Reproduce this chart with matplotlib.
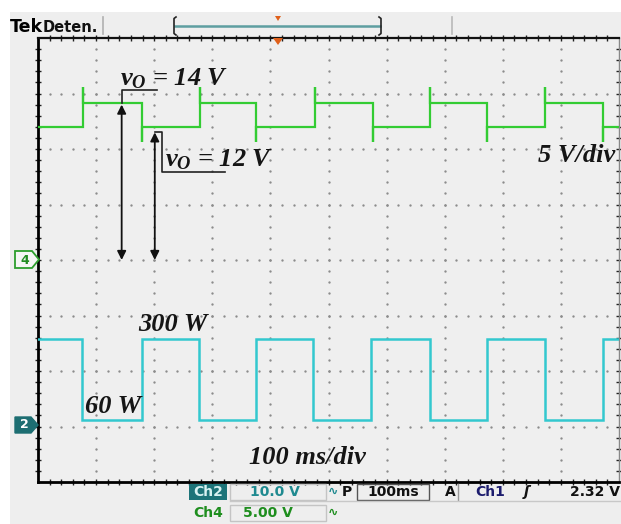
import matplotlib
matplotlib.use("Agg")
import matplotlib.pyplot as plt
from matplotlib.patches import Rectangle, Polygon
from matplotlib.lines import Line2D

# ---------------- data ----------------
# time axis: 100 ms/div, 10 divisions
time_per_div_ms = 100
n_hdiv = 10
n_vdiv = 8

# Ch4: output voltage (5 V/div), ground marker at centre
ch4_volts_per_div = 5.0
ch4_edges_ms = [77, 179, 278, 376, 476, 576, 674, 773, 873, 973]   # first edge is rising
ch4_high_v = 14.1
ch4_low_v = 12.0
ch4_overshoot_v = 15.6
ch4_undershoot_v = 10.6
ch4_start_level = "low"

# Ch2: load power (10 V/div scale), ground marker 3 div below centre
ch2_volts_per_div = 10.0
ch2_edges_ms = [76, 179, 277, 376, 474, 574, 674, 773, 873, 973]   # first edge is falling
ch2_high_v = 15.8
ch2_low_v = 1.2
ch2_start_level = "high"

# annotations
vo_labels = ["14 V", "12 V"]
power_labels = ["300 W", "60 W"]
scale_labels = ["5 V/div", "100 ms/div"]

# scope readout
readout_ch2 = ["Ch2", "10.0 V"]
readout_ch4 = ["Ch4", "5.00 V"]
readout_time = "100ms"
readout_trig = ["Ch1", "2.32 V"]

# ---------------- figure ----------------
W, H = 621, 524
fig = plt.figure(figsize=(W / 100, H / 100), dpi=100, facecolor="white")


def fx(x):
    return x / W


def fy(y):
    return 1 - y / H


BG = "#eeeeee"
fig.patches.append(Rectangle((fx(10), 0), 1, fy(12), transform=fig.transFigure,
                             facecolor=BG, edgecolor="none", zorder=-10))

ax = fig.add_axes([fx(38), fy(482), fx(619) - fx(38), fy(38) - fy(482)])
ax.set_facecolor("#efefef")
ax.set_xlim(0, n_hdiv * time_per_div_ms)
ax.set_ylim(-n_vdiv / 2, n_vdiv / 2)

# graticule dots
dot_c = "#8c8c8c"
for k in range(1, n_hdiv):
    xv = k * time_per_div_ms
    ys = [-4 + 0.2 * j for j in range(1, 40)]
    ax.plot([xv] * len(ys), ys, ls="none", marker="o", ms=1.7, mec="none", mfc=dot_c, zorder=1)
for k in range(1, n_vdiv):
    yv = -4 + k
    xs = [20 * j for j in range(1, 50)]
    ax.plot(xs, [yv] * len(xs), ls="none", marker="o", ms=1.7, mec="none", mfc=dot_c, zorder=1)

# spines and ticks
for s in ["left", "bottom"]:
    ax.spines[s].set_linewidth(2.0)
    ax.spines[s].set_color("black")
ax.spines["top"].set_linewidth(1.6)
ax.spines["top"].set_color("#111111")
ax.spines["right"].set_linewidth(1.0)
ax.spines["right"].set_color("#888888")
ax.set_xticks([20 * j for j in range(1, 50)])
ax.set_yticks([-4 + 0.2 * j for j in range(1, 40)])
ax.tick_params(axis="both", which="both", direction="inout", length=4, width=1.0,
               color="#222222", labelbottom=False, labelleft=False,
               top=True, right=True)


def build_trace(edges, start, high, low, over=None, under=None):
    ts, vs = [0], [low if start == "low" else high]
    level = start
    for t in edges:
        if level == "low":
            ts += [t, t]
            vs += [low, over if over is not None else high]
            ts.append(t)
            vs.append(high)
            level = "high"
        else:
            ts += [t, t]
            vs += [high, under if under is not None else low]
            ts.append(t)
            vs.append(low)
            level = "low"
    ts.append(n_hdiv * time_per_div_ms)
    vs.append(vs[-1])
    return ts, vs


t4, v4 = build_trace(ch4_edges_ms, ch4_start_level, ch4_high_v, ch4_low_v,
                     ch4_overshoot_v, ch4_undershoot_v)
ax.plot(t4, [v / ch4_volts_per_div + 0 for v in v4], color="#33cc33", lw=1.6, zorder=3,
        solid_joinstyle="miter")

t2, v2 = build_trace(ch2_edges_ms, ch2_start_level, ch2_high_v, ch2_low_v)
ax.plot(t2, [v / ch2_volts_per_div - 3 for v in v2], color="#33c8cf", lw=1.8, zorder=3,
        solid_joinstyle="miter")

# ---- annotation arrows & leaders ----
ax.annotate("", xy=(144, ch4_high_v / ch4_volts_per_div - 0.02), xytext=(144, 0),
            arrowprops=dict(arrowstyle="<|-|>", color="#111111", lw=1.3,
                            mutation_scale=13, shrinkA=0, shrinkB=0), zorder=5)
ax.annotate("", xy=(201, ch4_low_v / ch4_volts_per_div - 0.1), xytext=(201, 0),
            arrowprops=dict(arrowstyle="<|-|>", color="#111111", lw=1.3,
                            mutation_scale=13, shrinkA=0, shrinkB=0), zorder=5)
ax.plot([144, 144, 204], [ch4_high_v / ch4_volts_per_div, 3.06, 3.06], color="#222222", lw=1.2, zorder=5)
ax.plot([201, 213, 213, 321], [ch4_low_v / ch4_volts_per_div - 0.1, 2.3, 1.585, 1.585],
        color="#222222", lw=1.2, zorder=5)

# ---- annotation texts ----
plt.rcParams["mathtext.fontset"] = "custom"
plt.rcParams["mathtext.it"] = "Liberation Serif:italic:bold"
plt.rcParams["mathtext.rm"] = "Liberation Serif:bold"
ser = dict(family="Liberation Serif", style="italic", weight="bold", color="#151515")
FS = 19
ax.text(141, 3.15, r"$v_O$" + " = " + vo_labels[0], fontsize=FS, va="baseline", ha="left", zorder=6, **ser)
ax.text(218, 1.69, r"$v_O$" + " = " + vo_labels[1], fontsize=FS, va="baseline", ha="left", zorder=6, **ser)
ax.text(993, 1.77, scale_labels[0], fontsize=FS, va="baseline", ha="right", zorder=6, **ser)
ax.text(172, -1.28, power_labels[0], fontsize=FS, va="baseline", ha="left", zorder=6, **ser)
ax.text(81, -2.76, power_labels[1], fontsize=FS, va="baseline", ha="left", zorder=6, **ser)
ax.text(364, -3.68, scale_labels[1], fontsize=FS, va="baseline", ha="left", zorder=6, **ser)

# ---- channel markers ----
fig.patches.append(Polygon([(fx(15), fy(251)), (fx(32), fy(251)), (fx(39), fy(259.5)),
                            (fx(32), fy(268)), (fx(15), fy(268))], closed=True,
                           transform=fig.transFigure, facecolor="#f6f6f6",
                           edgecolor="#2e9e2e", lw=1.3, zorder=5))
fig.text(fx(25), fy(260), "4", color="#238c23", fontsize=9, fontweight="bold",
         ha="center", va="center", family="DejaVu Sans", zorder=7)
fig.patches.append(Polygon([(fx(15), fy(417)), (fx(31), fy(417)), (fx(38), fy(425)),
                            (fx(31), fy(433)), (fx(15), fy(433))], closed=True,
                           transform=fig.transFigure, facecolor="#1d6e72",
                           edgecolor="#1d6e72", lw=1, zorder=5))
fig.text(fx(24), fy(425), "2", color="white", fontsize=9, fontweight="bold",
         ha="center", va="center", family="DejaVu Sans", zorder=7)

# ---- top bar ----
sans = dict(family="DejaVu Sans", fontweight="bold")
fig.text(fx(10), fy(27), "Tek", fontsize=12.5, color="black", va="center", ha="left", **sans)
fig.text(fx(43), fy(27), "Deten.", fontsize=10.5, color="#111111", va="center", ha="left", **sans)
fig.lines.append(Line2D([fx(103), fx(103)], [fy(17), fy(34)], color="#b0b0b0", lw=1.2,
                        transform=fig.transFigure))
fig.lines.append(Line2D([fx(452), fx(452)], [fy(17), fy(34)], color="#b8b8b8", lw=1.2,
                        transform=fig.transFigure))
fig.lines.append(Line2D([fx(175), fx(380)], [fy(26), fy(26)], color="#5e9ea0", lw=1.8,
                        transform=fig.transFigure))
for xb, d in [(174, 1), (381, -1)]:
    fig.lines.append(Line2D([fx(xb + 2 * d), fx(xb), fx(xb), fx(xb + 2 * d)],
                            [fy(17), fy(18.5), fy(33.5), fy(35)], color="#222222", lw=1.2,
                            transform=fig.transFigure))
fig.patches.append(Polygon([(fx(275), fy(16)), (fx(281), fy(16)), (fx(278), fy(21))],
                           closed=True, transform=fig.transFigure, facecolor="#e0601a",
                           edgecolor="none", zorder=5))
fig.patches.append(Polygon([(fx(273), fy(38)), (fx(283), fy(38)), (fx(278), fy(45))],
                           closed=True, transform=fig.transFigure, facecolor="#e0601a",
                           edgecolor="none", zorder=5))

# ---- bottom readout ----
teal = "#1f8a90"
green = "#1e8e1e"
FS2 = 10
fig.patches.append(Rectangle((fx(189), fy(500)), fx(227) - fx(189), fy(484) - fy(500),
                             transform=fig.transFigure, facecolor="#1d7479", edgecolor="none"))
fig.text(fx(208), fy(492), readout_ch2[0], fontsize=FS2, color="#d8f2f2", ha="center", va="center", **sans)
fig.patches.append(Rectangle((fx(230), fy(500)), fx(326) - fx(230), fy(484) - fy(500),
                             transform=fig.transFigure, facecolor="none", edgecolor="#c4c4c4", lw=1))
fig.text(fx(250), fy(492), readout_ch2[1], fontsize=FS2, color=teal, ha="left", va="center", **sans)
fig.text(fx(333), fy(491), "∿", fontsize=9, color=teal, ha="center", va="center", **sans)
fig.text(fx(342), fy(492), "P", fontsize=FS2, color="#111111", ha="left", va="center", **sans)
fig.patches.append(Rectangle((fx(357), fy(500)), fx(429) - fx(357), fy(484) - fy(500),
                             transform=fig.transFigure, facecolor="none", edgecolor="#555555", lw=1))
fig.text(fx(393), fy(492), readout_time, fontsize=FS2, color="#111111", ha="center", va="center", **sans)
fig.text(fx(445), fy(492), "A", fontsize=FS2, color="#111111", ha="left", va="center", **sans)
fig.lines.append(Line2D([fx(458), fx(458)], [fy(484), fy(500)], color="#999999", lw=1,
                        transform=fig.transFigure))
fig.text(fx(475), fy(492), readout_trig[0], fontsize=FS2, color="#1c1c6e", ha="left", va="center", **sans)
fig.text(fx(527), fy(492), "ʃ", fontsize=FS2, color="#111111", ha="center", va="center",
         family="DejaVu Sans", fontweight="bold", style="italic")
fig.text(fx(620), fy(492), readout_trig[1], fontsize=FS2, color="#111111", ha="right", va="center", **sans)
fig.lines.append(Line2D([fx(230), fx(621)], [fy(501), fy(501)], color="#c8c8c8", lw=1,
                        transform=fig.transFigure))

fig.text(fx(208), fy(513), readout_ch4[0], fontsize=FS2, color=green, ha="center", va="center", **sans)
fig.patches.append(Rectangle((fx(230), fy(521)), fx(326) - fx(230), fy(505) - fy(521),
                             transform=fig.transFigure, facecolor="none", edgecolor="#c4c4c4", lw=1))
fig.text(fx(243), fy(513), readout_ch4[1], fontsize=FS2, color=green, ha="left", va="center", **sans)
fig.text(fx(333), fy(512), "∿", fontsize=9, color=green, ha="center", va="center", **sans)

fig.savefig("out.png", dpi=100, facecolor=fig.get_facecolor())
